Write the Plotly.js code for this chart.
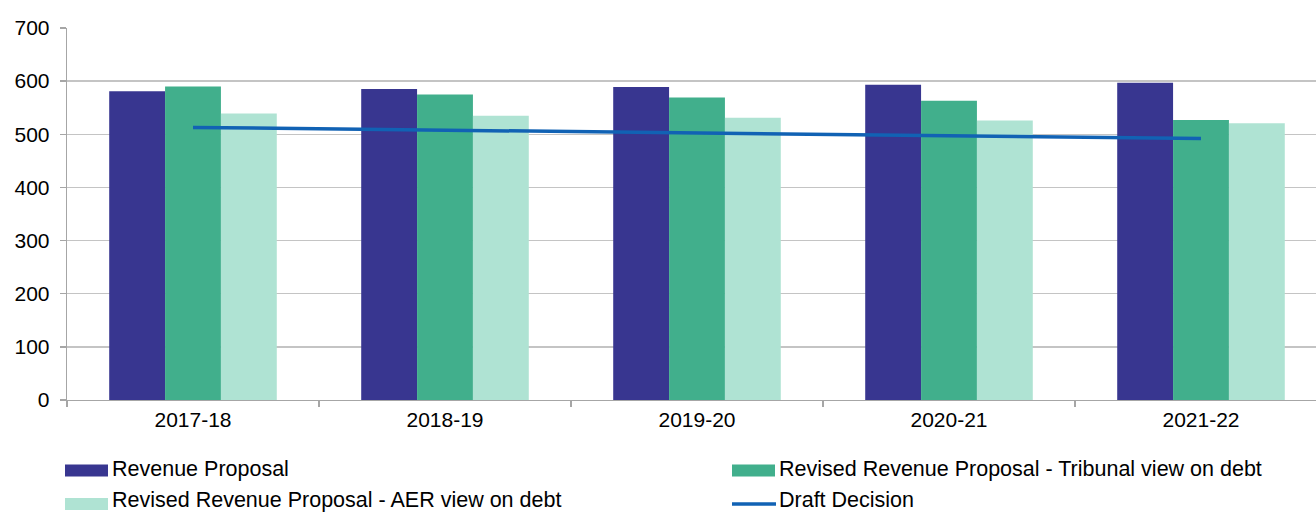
<!DOCTYPE html>
<html>
<head>
<meta charset="utf-8">
<script src="https://cdn.plot.ly/plotly-3.0.1.min.js"></script>
<style>
html,body{margin:0;padding:0;overflow:hidden;background:#fff;width:1316px;height:513px;}
#chart{width:1327px;height:513px;}
</style>
</head>
<body>
<div id="chart"></div>
<script>
const years = ["2017-18", "2018-19", "2019-20", "2020-21", "2021-22"];
const revenueProposal = [581, 585, 589, 593, 597];
const tribunalView = [590, 575, 569, 563, 527];
const aerView = [539, 535, 531, 526, 521];
const draftDecision = [513, 508, 503, 497, 492];

const seriesNames = [
  "Revenue Proposal",
  "Revised Revenue Proposal - Tribunal view on debt",
  "Revised Revenue Proposal - AER view on debt",
  "Draft Decision"
];
const seriesColors = ["#383690", "#41AF8C", "#AFE3D3", "#1162B4"];

const W = 1327, H = 513;
const M = {l: 67, r: 0, t: 28, b: 113};
const plotW = W - M.l - M.r, plotH = H - M.t - M.b;
const px = v => (v - M.l) / plotW;           // pixel x -> paper x
const py = v => (H - M.b - v) / plotH;       // pixel y -> paper y

const FONT = "Liberation Sans, Arial, sans-serif";

const traces = [
  {type: "bar", x: years, y: revenueProposal, name: seriesNames[0], marker: {color: seriesColors[0]}},
  {type: "bar", x: years, y: tribunalView, name: seriesNames[1], marker: {color: seriesColors[1]}},
  {type: "bar", x: years, y: aerView, name: seriesNames[2], marker: {color: seriesColors[2]}},
  {type: "scatter", mode: "lines", x: years, y: draftDecision, name: seriesNames[3], line: {color: seriesColors[3], width: 3.5}}
];

// Legend drawn as layout items (2 columns x 2 rows, like the original)
const legendCols = [65, 732];
const legendRows = [469, 500];
const symbolRows = [470.5, 504];
const legendOrder = [0, 1, 2, 3];
const shapes = [];
const annotations = [];
legendOrder.forEach((s, i) => {
  const cx = legendCols[i % 2], row = Math.floor(i / 2);
  const cy = legendRows[row], sy = symbolRows[row];
  if (s === 3) {
    shapes.push({type: "line", xref: "paper", yref: "paper",
      x0: px(cx), x1: px(cx + 44), y0: py(sy), y1: py(sy),
      line: {color: seriesColors[s], width: 3.5}});
  } else {
    shapes.push({type: "rect", xref: "paper", yref: "paper",
      x0: px(cx), x1: px(cx + 43), y0: py(sy + 6), y1: py(sy - 6),
      fillcolor: seriesColors[s], line: {width: 0}});
  }
  annotations.push({xref: "paper", yref: "paper", x: px(cx + 46), y: py(cy),
    xanchor: "left", yanchor: "middle", showarrow: false, text: seriesNames[s],
    borderpad: 0, font: {family: FONT, size: 21.5, color: "#000"}});
});

const layout = {
  width: W, height: H,
  margin: {l: M.l, r: M.r, t: M.t, b: M.b, autoexpand: false},
  paper_bgcolor: "#fff", plot_bgcolor: "#fff",
  font: {family: FONT, size: 22, color: "#000"},
  barmode: "group", bargap: 0.335, bargroupgap: 0,
  showlegend: false,
  xaxis: {
    type: "category",
    showline: true, linecolor: "#a6a6a6", linewidth: 1.3,
    ticks: "outside", tickson: "boundaries", ticklen: 6, tickcolor: "#a6a6a6", tickwidth: 1.3,
    showgrid: false, zeroline: false,
    tickfont: {family: FONT, size: 21, color: "#000"}
  },
  yaxis: {
    range: [0, 700], dtick: 100, tick0: 0,
    showline: true, linecolor: "#a6a6a6", linewidth: 1.3,
    ticks: "outside", ticklen: 6, tickcolor: "#a6a6a6", tickwidth: 1.3,
    ticklabelstandoff: 6,
    showgrid: true, gridcolor: "#c4c4c4", gridwidth: 1.5,
    zeroline: false,
    tickfont: {family: FONT, size: 21, color: "#000"}
  },
  shapes: shapes,
  annotations: annotations
};

Plotly.newPlot("chart", traces, layout, {displayModeBar: false, staticPlot: true});
</script>
</body>
</html>
